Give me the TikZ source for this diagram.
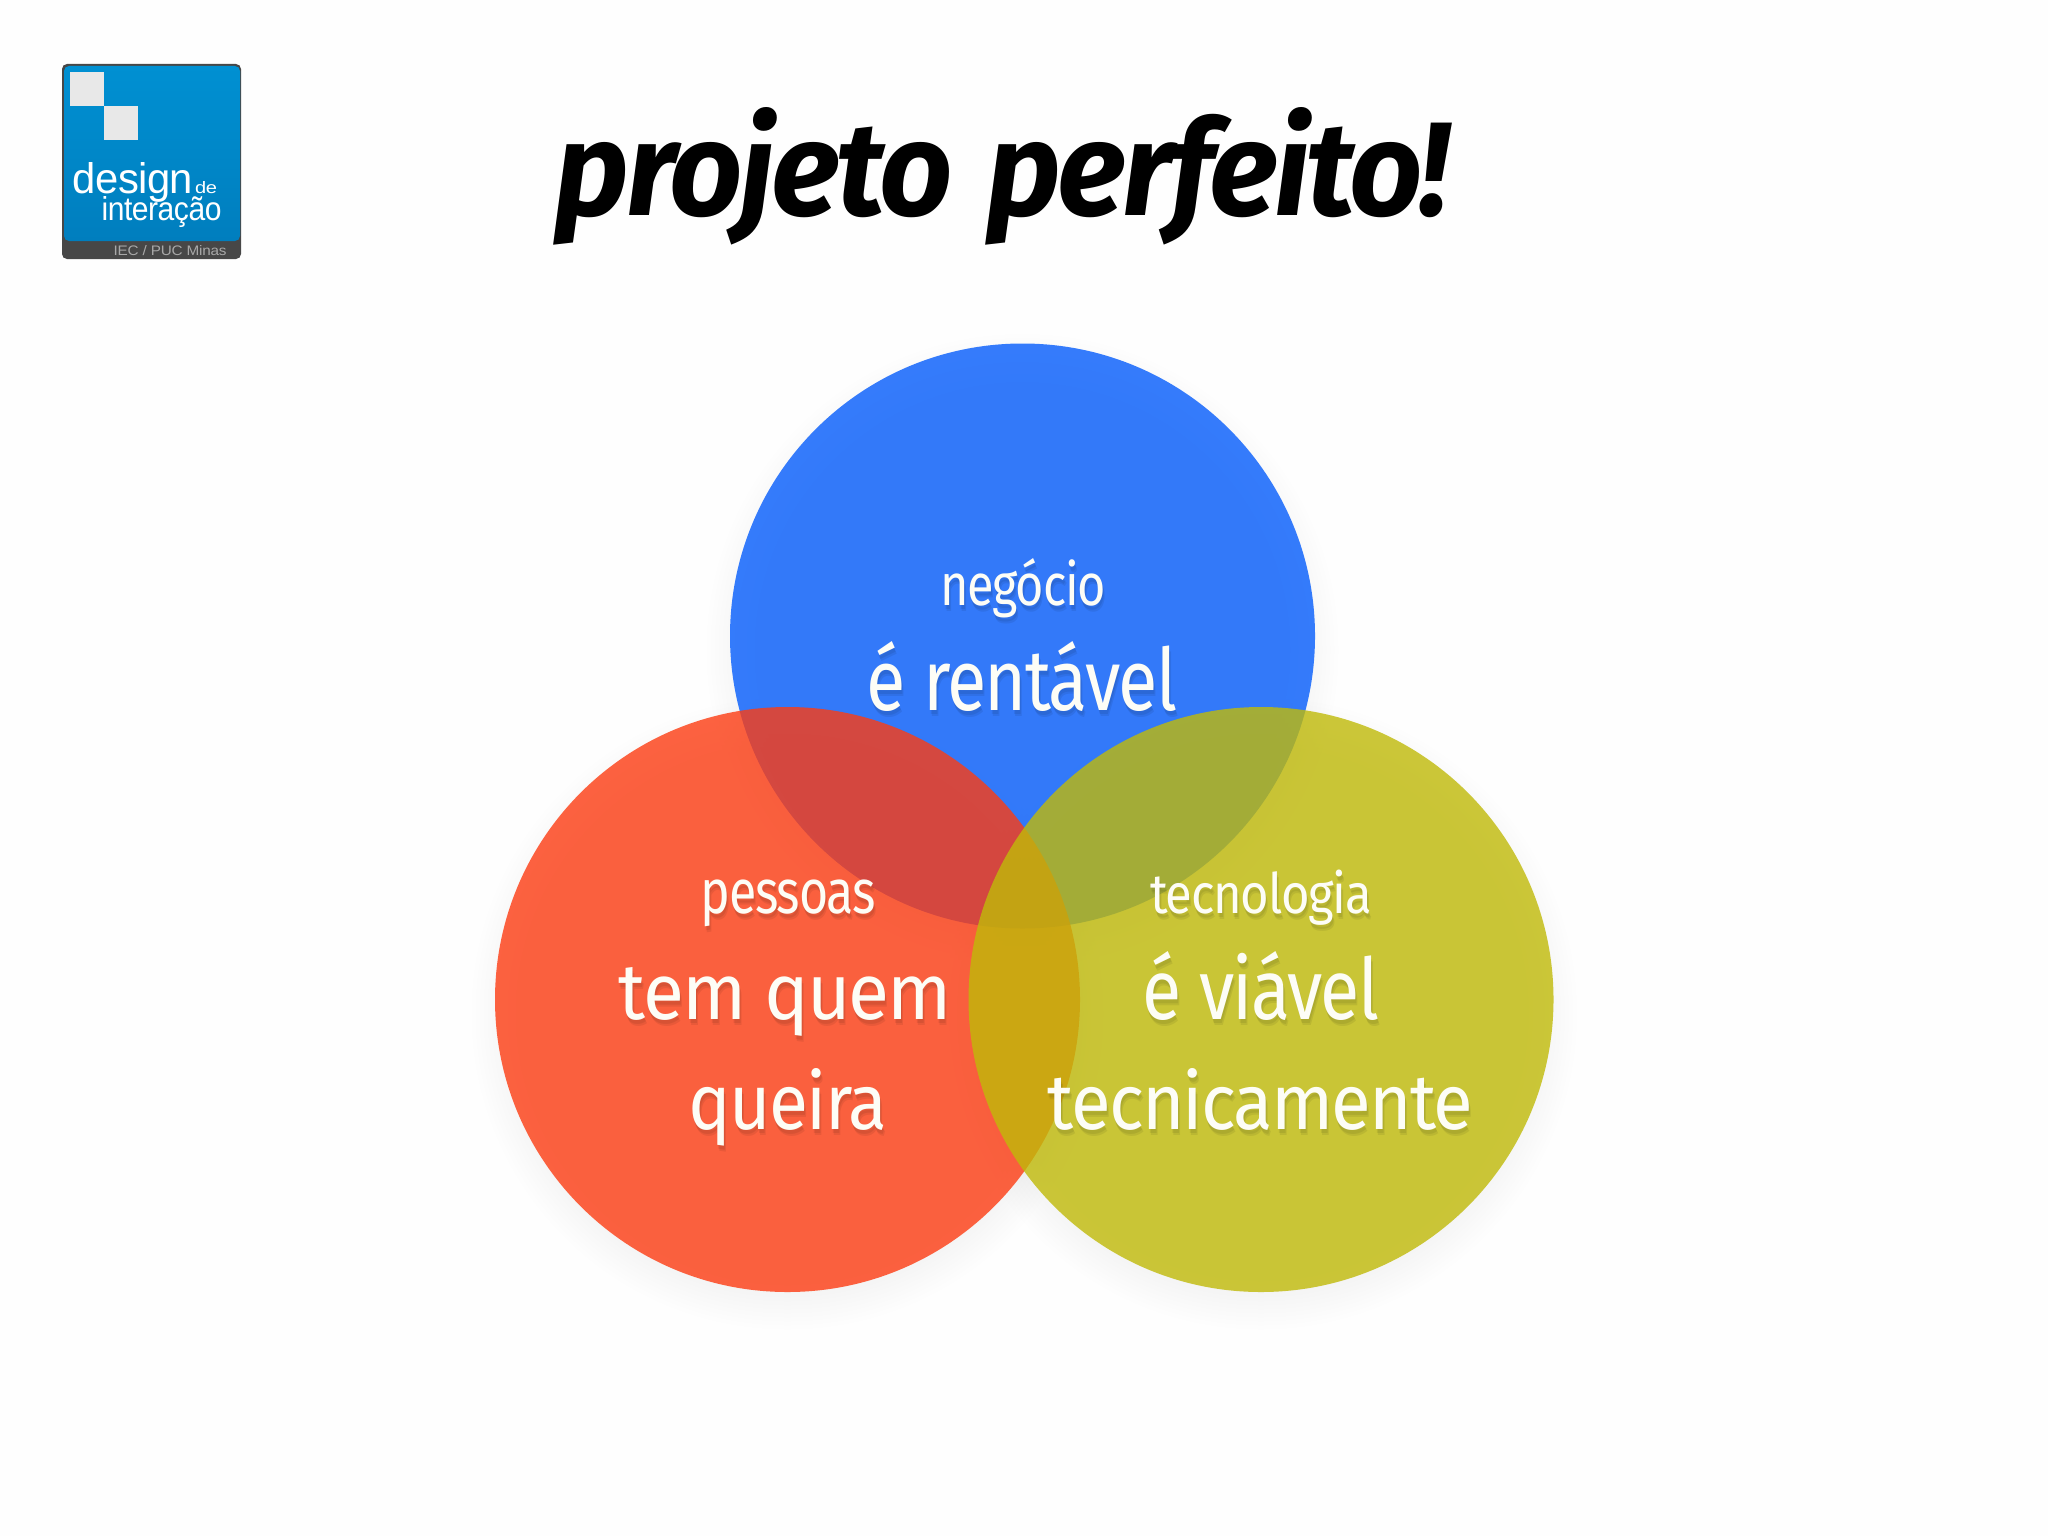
\documentclass[tikz,border=0pt]{standalone}
\usepackage{fontspec}
\usepackage{graphicx}
\setmainfont[LetterSpace=-2.5]{Fira Sans}
\newfontfamily\logofont[LetterSpace=-1.5]{Liberation Sans}
\definecolor{bgc}{HTML}{FEFEFE}
\definecolor{vblue}{RGB}{4,92,252}
\definecolor{vred}{RGB}{253,60,18}
\definecolor{vyellow}{RGB}{192,186,8}
\definecolor{txtc}{HTML}{FDFDF6}
\definecolor{logotop}{HTML}{0090D2}
\definecolor{logomid}{HTML}{006CAC}
\definecolor{logobot}{HTML}{007EBE}
\definecolor{logodark}{HTML}{474747}
\definecolor{logosqc}{HTML}{E8E8E8}
\definecolor{logogrey}{HTML}{A8A8A8}
\tikzset{
  vcircle/.style={circle,inner sep=0pt,minimum size=292.5pt,draw=none,fill=#1,fill opacity=.8},
  vlab/.style={anchor=base,inner sep=0pt,outer sep=0pt,text=txtc},
  vshadow/.style={anchor=base,inner sep=0pt,outer sep=0pt,text=black,text opacity=.07},
  logotext/.style={anchor=base,inner sep=0pt,outer sep=0pt,text=white,font=\logofont},
  softshadow/.style={fill=black,fill opacity=.0035,draw=none}
}
% width px, height px, text
\newcommand\fitbox[3]{\resizebox{\dimexpr#1pt/2\relax}{\dimexpr#2pt/2\relax}{#3}}
% name, centre x, baseline y, width px, height px, text
\newcommand\vlabel[6]{%
  \node[vshadow] (#1s1) at (#2+2,#3+6) {\fitbox{#4}{#5}{#6}};
  \node[vshadow] (#1s2) at (#2+1,#3+4) {\fitbox{#4}{#5}{#6}};
  \node[vlab] (#1) at (#2,#3) {\fitbox{#4}{#5}{#6}};
}
\begin{document}
\begin{tikzpicture}[x=.5pt,y=-.5pt]
\fill[bgc] (0,0) rectangle (2048,1536);
\useasboundingbox (0,0) rectangle (2048,1536);
% logo
\fill[rounded corners=2.5pt,fill=logodark] (62,64) rectangle (241,259);
\shade[rounded corners=2.5pt,top color=logotop,middle color=logomid,bottom color=logobot] (64,66) rectangle (240,241);
\fill[logosqc] (70,72.5) rectangle (103.5,106);
\fill[logosqc] (103.5,106) rectangle (137.5,139.5);
\node[logotext] (logoa) at (133,193) {\fitbox{120}{31}{design}};
\node[logotext] (logob) at (206,193) {\fitbox{22}{12}{de}};
\node[logotext] (logoc) at (161.5,220.7) {\fitbox{120}{24}{interação}};
\node[logotext,text=logogrey] (logod) at (170,255) {\fitbox{113}{10}{IEC / PUC Minas}};
% title
\node[anchor=base,inner sep=0pt,text=black] (title) at (1002,215) {\fitbox{894}{108}{\bfseries\itshape projeto\hspace{.06em} perfeito!}};
% soft shadows
\foreach \cx/\cy in {1022.5/636,787.5/999.5,1261/999.5}{
  \foreach \r in {268,272,...,316}{
    \fill[softshadow] (\cx,\cy+14) circle[radius=\r*.5pt];
  }
}
% circles
\node[vcircle=vblue] (neg) at (1022.5,636) {};
\node[vcircle=vred] (pes) at (787.5,999.5) {};
\node[vcircle=vyellow] (tec) at (1261,999.5) {};
% labels
\vlabel{l1}{1023}{605}{166}{47}{negócio}
\vlabel{l2}{1022}{710}{310}{69}{é rentável}
\vlabel{l3}{788}{913.7}{175}{33.6}{pessoas}
\vlabel{l4}{785.5}{1019}{333}{52}{tem quem}
\vlabel{l5}{788}{1129}{198}{61}{queira}
\vlabel{l6}{1261}{913.7}{222}{43.5}{tecnologia}
\vlabel{l7}{1261}{1019}{236}{68}{é viável}
\vlabel{l8}{1260.5}{1129}{425}{61}{tecnicamente}
\end{tikzpicture}
\end{document}
